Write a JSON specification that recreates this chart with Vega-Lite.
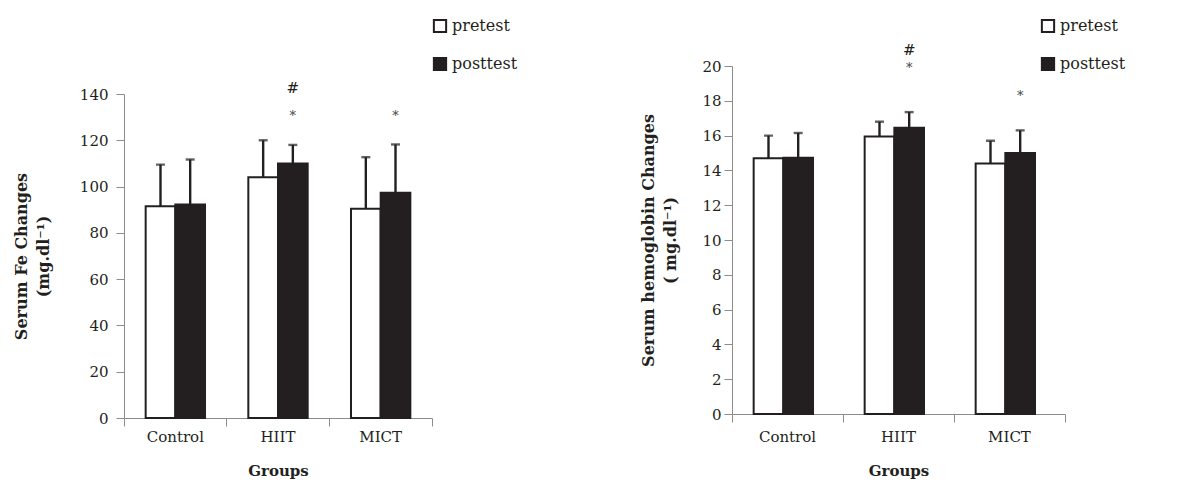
{
  "$schema": "https://vega.github.io/schema/vega-lite/v6.json",
  "padding": {"left": 13, "top": 18, "right": 5, "bottom": 5},
  "background": "white",
  "spacing": 122,
  "config": {
    "view": {"stroke": null},
    "font": "DejaVu Serif",
    "axis": {
      "grid": false,
      "domainColor": "#8c8c8c",
      "tickColor": "#8c8c8c",
      "labelColor": "#231f20",
      "titleColor": "#231f20",
      "labelFont": "DejaVu Serif",
      "titleFont": "DejaVu Serif",
      "labelFontSize": 15,
      "titleFontSize": 16,
      "titleFontWeight": "bold",
      "tickSize": 8,
      "labelOverlap": false
    },
    "legend": {
      "padding": 0,
      "labelFont": "DejaVu Serif",
      "labelFontSize": 16,
      "labelColor": "#231f20",
      "symbolType": "square",
      "symbolSize": 150,
      "symbolStrokeColor": "#231f20",
      "symbolStrokeWidth": 2,
      "rowPadding": 16,
      "labelOffset": 4
    }
  },
  "datasets": {
    "fe": [
      {"group": "Control", "time": "pretest", "mean": 91.5, "upper": 109.5},
      {"group": "Control", "time": "posttest", "mean": 92.2, "upper": 111.7},
      {"group": "HIIT", "time": "pretest", "mean": 104, "upper": 120},
      {"group": "HIIT", "time": "posttest", "mean": 110, "upper": 118},
      {"group": "MICT", "time": "pretest", "mean": 90.4, "upper": 112.7},
      {"group": "MICT", "time": "posttest", "mean": 97.3, "upper": 118.2}
    ],
    "fe_ann": [
      {"group": "HIIT", "time": "posttest", "label": "#", "ypos": 142.5},
      {"group": "HIIT", "time": "posttest", "label": "*", "ypos": 130.5},
      {"group": "MICT", "time": "posttest", "label": "*", "ypos": 130.5}
    ],
    "hb": [
      {"group": "Control", "time": "pretest", "mean": 14.7, "upper": 16.0},
      {"group": "Control", "time": "posttest", "mean": 14.72, "upper": 16.15},
      {"group": "HIIT", "time": "pretest", "mean": 15.95, "upper": 16.8},
      {"group": "HIIT", "time": "posttest", "mean": 16.45, "upper": 17.35},
      {"group": "MICT", "time": "pretest", "mean": 14.4, "upper": 15.7},
      {"group": "MICT", "time": "posttest", "mean": 15.0, "upper": 16.3}
    ],
    "hb_ann": [
      {"group": "HIIT", "time": "posttest", "label": "#", "ypos": 20.9},
      {"group": "HIIT", "time": "posttest", "label": "*", "ypos": 19.86},
      {"group": "MICT", "time": "posttest", "label": "*", "ypos": 18.27}
    ],
    "blank": [{"a": 1}]
  },
  "resolve": {"scale": {"fill": "independent"}, "legend": {"fill": "independent"}},
  "hconcat": [
    {
      "vconcat": [
        {
          "width": 308,
          "height": 28,
          "data": {"name": "blank"},
          "mark": {"type": "text", "text": ""},
          "encoding": {}
        },
        {
          "width": 308,
          "height": 324,
          "layer": [
            {
              "data": {"name": "fe"},
              "mark": {"type": "bar", "stroke": "#231f20", "strokeWidth": 2},
              "encoding": {
                "x": {"field": "group", "type": "nominal", "sort": ["Control", "HIIT", "MICT"], "scale": {"paddingInner": 0, "paddingOuter": 0},
                      "axis": {"title": "Groups", "labelAngle": 0, "bandPosition": 1, "tickExtra": true, "labelPadding": 3, "titlePadding": 19, "titleFontSize": 15}},
                "xOffset": {"field": "time", "type": "nominal", "sort": ["pretest", "posttest"], "scale": {"paddingInner": 0, "paddingOuter": 0.73}},
                "y": {"field": "mean", "type": "quantitative", "scale": {"domain": [0, 140]},
                      "axis": {"title": ["Serum Fe Changes", "(mg.dl⁻¹)"], "values": [0, 20, 40, 60, 80, 100, 120, 140], "labelOverlap": false, "labelPadding": 8, "titlePadding": 28, "titleLineHeight": 22}},
                "fill": {"field": "time", "type": "nominal", "sort": ["pretest", "posttest"],
                         "scale": {"domain": ["pretest", "posttest"], "range": ["#ffffff", "#231f20"]},
                         "legend": {"title": null, "orient": "none", "legendX": 308, "legendY": -48}}
              }
            },
            {
              "data": {"name": "fe"},
              "mark": {"type": "rule", "strokeWidth": 2.4, "color": "#231f20"},
              "encoding": {
                "x": {"field": "group", "type": "nominal", "sort": ["Control", "HIIT", "MICT"]},
                "xOffset": {"field": "time", "type": "nominal", "sort": ["pretest", "posttest"]},
                "y": {"field": "mean", "type": "quantitative"},
                "y2": {"field": "upper"}
              }
            },
            {
              "data": {"name": "fe"},
              "mark": {"type": "tick", "thickness": 2.4, "size": 9, "color": "#231f20"},
              "encoding": {
                "x": {"field": "group", "type": "nominal", "sort": ["Control", "HIIT", "MICT"]},
                "xOffset": {"field": "time", "type": "nominal", "sort": ["pretest", "posttest"]},
                "y": {"field": "upper", "type": "quantitative"}
              }
            },
            {
              "data": {"name": "fe_ann"},
              "transform": [{"filter": "datum.label == '#'"}],
              "mark": {"type": "text", "color": "#231f20", "baseline": "middle", "fontSize": 15},
              "encoding": {
                "x": {"field": "group", "type": "nominal", "sort": ["Control", "HIIT", "MICT"]},
                "xOffset": {"field": "time", "type": "nominal", "sort": ["pretest", "posttest"]},
                "y": {"field": "ypos", "type": "quantitative"},
                "text": {"field": "label"}
              }
            },
            {
              "data": {"name": "fe_ann"},
              "transform": [{"filter": "datum.label == '*'"}],
              "mark": {"type": "text", "color": "#444444", "baseline": "middle", "fontSize": 13},
              "encoding": {
                "x": {"field": "group", "type": "nominal", "sort": ["Control", "HIIT", "MICT"]},
                "xOffset": {"field": "time", "type": "nominal", "sort": ["pretest", "posttest"]},
                "y": {"field": "ypos", "type": "quantitative"},
                "text": {"field": "label"}
              }
            }
          ]
        }
      ],
      "spacing": 0,
      "bounds": "flush"
    },
    {
      "width": 333,
      "height": 348,
      "layer": [
        {
          "data": {"name": "hb"},
          "mark": {"type": "bar", "stroke": "#231f20", "strokeWidth": 2},
          "encoding": {
            "x": {"field": "group", "type": "nominal", "sort": ["Control", "HIIT", "MICT"], "scale": {"paddingInner": 0, "paddingOuter": 0},
                  "axis": {"title": "Groups", "labelAngle": 0, "bandPosition": 1, "tickExtra": true, "labelPadding": 7, "titlePadding": 19, "titleFontSize": 15}},
            "xOffset": {"field": "time", "type": "nominal", "sort": ["pretest", "posttest"], "scale": {"paddingInner": 0, "paddingOuter": 0.73}},
            "y": {"field": "mean", "type": "quantitative", "scale": {"domain": [0, 20]},
                  "axis": {"title": ["Serum hemoglobin Changes", "( mg.dl⁻¹)"], "values": [0, 2, 4, 6, 8, 10, 12, 14, 16, 18, 20], "labelOverlap": false, "labelPadding": 3, "titlePadding": 23, "titleLineHeight": 22}},
            "fill": {"field": "time", "type": "nominal", "sort": ["pretest", "posttest"],
                     "scale": {"domain": ["pretest", "posttest"], "range": ["#ffffff", "#231f20"]},
                     "legend": {"title": null, "orient": "none", "legendX": 308, "legendY": -48}}
          }
        },
        {
          "data": {"name": "hb"},
          "mark": {"type": "rule", "strokeWidth": 2.4, "color": "#231f20"},
          "encoding": {
            "x": {"field": "group", "type": "nominal", "sort": ["Control", "HIIT", "MICT"]},
            "xOffset": {"field": "time", "type": "nominal", "sort": ["pretest", "posttest"]},
            "y": {"field": "mean", "type": "quantitative", "axis": {"title": ["Serum hemoglobin Changes", "( mg.dl⁻¹)"], "values": [0, 2, 4, 6, 8, 10, 12, 14, 16, 18, 20], "labelOverlap": false, "labelPadding": 3, "titlePadding": 23, "titleLineHeight": 22}},
            "y2": {"field": "upper"}
          }
        },
        {
          "data": {"name": "hb"},
          "mark": {"type": "tick", "thickness": 2.4, "size": 9, "color": "#231f20"},
          "encoding": {
            "x": {"field": "group", "type": "nominal", "sort": ["Control", "HIIT", "MICT"]},
            "xOffset": {"field": "time", "type": "nominal", "sort": ["pretest", "posttest"]},
            "y": {"field": "upper", "type": "quantitative", "axis": {"title": ["Serum hemoglobin Changes", "( mg.dl⁻¹)"], "values": [0, 2, 4, 6, 8, 10, 12, 14, 16, 18, 20], "labelOverlap": false, "labelPadding": 3, "titlePadding": 23, "titleLineHeight": 22}}
          }
        },
        {
          "data": {"name": "hb_ann"},
          "transform": [{"filter": "datum.label == '#'"}],
          "mark": {"type": "text", "color": "#231f20", "baseline": "middle", "fontSize": 15},
          "encoding": {
            "x": {"field": "group", "type": "nominal", "sort": ["Control", "HIIT", "MICT"]},
            "xOffset": {"field": "time", "type": "nominal", "sort": ["pretest", "posttest"]},
            "y": {"field": "ypos", "type": "quantitative", "axis": {"title": ["Serum hemoglobin Changes", "( mg.dl⁻¹)"], "values": [0, 2, 4, 6, 8, 10, 12, 14, 16, 18, 20], "labelOverlap": false, "labelPadding": 3, "titlePadding": 23, "titleLineHeight": 22}},
            "text": {"field": "label"}
          }
        },
        {
          "data": {"name": "hb_ann"},
          "transform": [{"filter": "datum.label == '*'"}],
          "mark": {"type": "text", "color": "#444444", "baseline": "middle", "fontSize": 13},
          "encoding": {
            "x": {"field": "group", "type": "nominal", "sort": ["Control", "HIIT", "MICT"]},
            "xOffset": {"field": "time", "type": "nominal", "sort": ["pretest", "posttest"]},
            "y": {"field": "ypos", "type": "quantitative", "axis": {"title": ["Serum hemoglobin Changes", "( mg.dl⁻¹)"], "values": [0, 2, 4, 6, 8, 10, 12, 14, 16, 18, 20], "labelOverlap": false, "labelPadding": 3, "titlePadding": 23, "titleLineHeight": 22}},
            "text": {"field": "label"}
          }
        }
      ]
    }
  ]
}
